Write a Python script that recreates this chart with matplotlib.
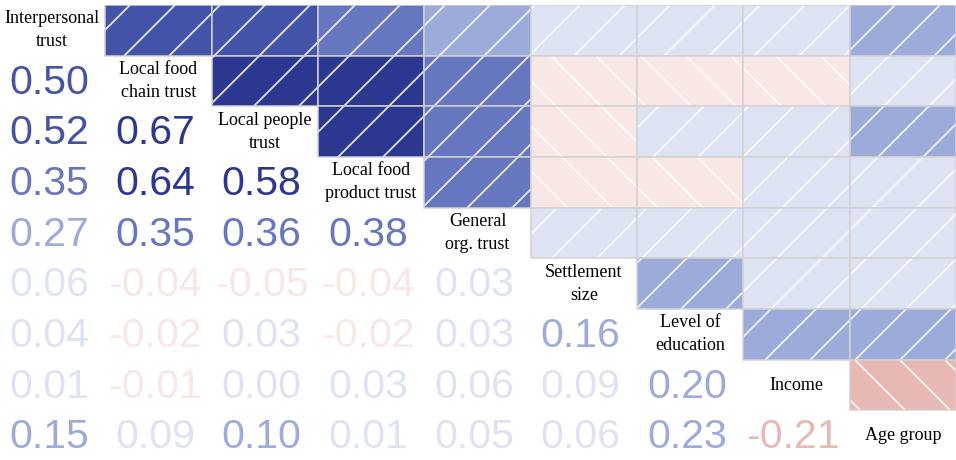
import numpy as np
import matplotlib.pyplot as plt
from matplotlib.colors import ListedColormap, BoundaryNorm
from matplotlib.patches import Rectangle

# variable names (shown on the diagonal)
labels = ["Interpersonal\ntrust", "Local food\nchain trust", "Local people\ntrust",
          "Local food\nproduct trust", "General\norg. trust", "Settlement\nsize",
          "Level of\neducation", "Income", "Age group"]

# lower triangle of the correlation matrix, row by row
r_food_chain = [0.50]
r_people = [0.52, 0.67]
r_product = [0.35, 0.64, 0.58]
r_general = [0.27, 0.35, 0.36, 0.38]
r_settlement = [0.06, -0.04, -0.05, -0.04, 0.03]
r_education = [0.04, -0.02, 0.03, -0.02, 0.03, 0.16]
r_income = [0.01, -0.01, 0.00, 0.03, 0.06, 0.09, 0.20]
r_age = [0.15, 0.09, 0.10, 0.01, 0.05, 0.06, 0.23, -0.21]

# binned colour scale
bin_edges = [-1.0, -0.1, 0.0, 0.1, 0.3, 0.45, 0.55, 1.0]
bin_colors = ["#e8b9b4", "#f8e7e5", "#dde3f3", "#9dabdb", "#6676bf", "#4353a8", "#2c3890"]

lower_rows = [[], r_food_chain, r_people, r_product, r_general,
              r_settlement, r_education, r_income, r_age]
n = len(labels)
corr = np.eye(n)
for i, row in enumerate(lower_rows):
    for j, v in enumerate(row):
        corr[i, j] = v
        corr[j, i] = v

cmap = ListedColormap(bin_colors)
norm = BoundaryNorm(bin_edges, cmap.N)

# high dpi so the hatch lines get the wide spacing of the original
DPI = 270
W, H = 956, 460


def px(p):
    # pixel size -> points at this dpi
    return p * 72.0 / DPI


plt.rcParams['hatch.linewidth'] = px(1.8)
plt.rcParams['hatch.color'] = 'white'

fig = plt.figure(figsize=(W / DPI, H / DPI), dpi=DPI)
ax = fig.add_axes([-1 / W, -1 / H, 957 / W, 456 / H])
ax.set_xlim(-0.5, n - 0.5)
ax.set_ylim(n - 0.5, -0.5)
ax.axis('off')

for i in range(n):
    for j in range(n):
        v = corr[i, j]
        col = cmap(norm(v))
        if j > i:
            # upper triangle: shaded, hatched squares
            ax.add_patch(Rectangle((j - 0.5, i - 0.5), 1, 1, facecolor=col,
                                   edgecolor=(1, 1, 1, 0.85), lw=0,
                                   hatch='//' if v >= 0 else '\\\\'))
            ax.add_patch(Rectangle((j - 0.5, i - 0.5), 1, 1, fill=False,
                                   edgecolor='#d2d2d2', lw=px(1.5)))
        elif j < i:
            ax.text(j - 0.03, i + 0.03, f"{v:.2f}", ha='center', va='center', color=col,
                    fontsize=px(41), family='Liberation Sans')
        else:
            ax.text(j, i, labels[i], ha='center', va='center', color='black',
                    fontsize=px(18), family='Liberation Serif', linespacing=1.45)

fig.savefig("out.png", dpi=DPI, facecolor='white')
